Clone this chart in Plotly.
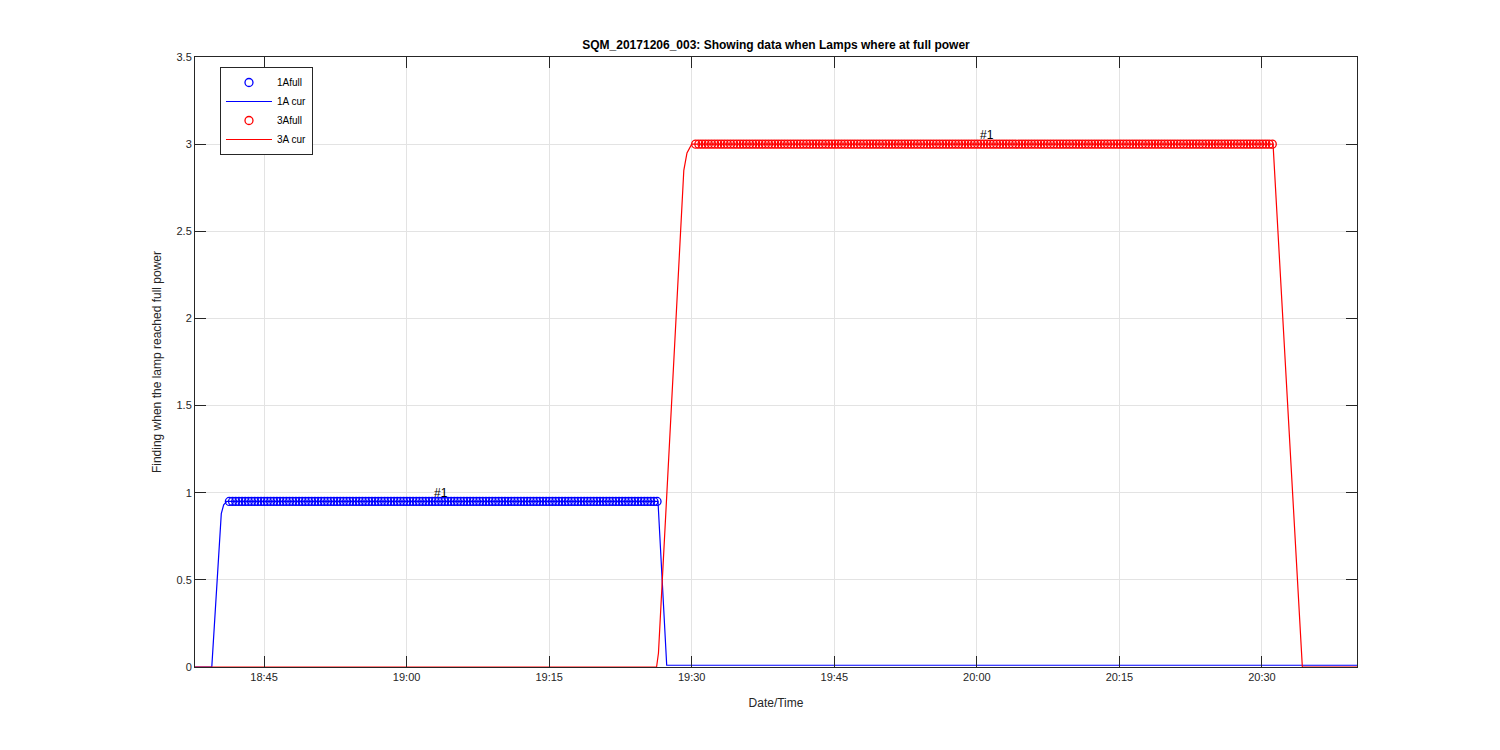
import pandas as pd
import plotly.graph_objects as go

DAY = "2017-12-06 "

# Lamp 1A current trace (key samples)
cur1_times = ["18:37:44", "18:39:30", "18:40:30", "18:40:45", "18:41:05",
              "19:26:27", "19:27:22", "20:40:00"]
cur1_vals = [0.0, 0.0, 0.88, 0.93, 0.95, 0.95, 0.01, 0.01]

# Lamp 3A current trace (key samples)
cur3_times = ["18:37:44", "19:26:18", "19:26:30", "19:29:10", "19:29:30",
              "19:30:00", "20:31:10", "20:34:15", "20:40:00"]
cur3_vals = [0.0, 0.0, 0.08, 2.85, 2.95, 3.0, 3.0, 0.0, 0.0]

# Full-power samples
full1_start, full1_end, full1_val = "18:41:21", "19:26:25", 0.95
full3_start, full3_end, full3_val = "19:30:25", "20:31:07", 3.0
sample_step = "20s"

# annotations
ann_times = ["19:02:38", "20:00:06"]
ann_vals = [1.0, 3.05]
ann_text = ["#1", "#1"]

x_range = ["18:37:44", "20:40:00"]
y_ticks = [0, 0.5, 1, 1.5, 2, 2.5, 3, 3.5]

def ts(lst):
    return [pd.Timestamp(DAY + t) for t in lst]

full1_t = pd.date_range(DAY + full1_start, DAY + full1_end, freq=sample_step)
full3_t = pd.date_range(DAY + full3_start, DAY + full3_end, freq=sample_step)

BLUE = "#0000ff"
RED = "#ff0000"

fig = go.Figure()
fig.add_trace(go.Scatter(x=full1_t, y=[full1_val] * len(full1_t), mode="markers",
                         name="1Afull",
                         marker=dict(symbol="circle-open", size=8, color=BLUE,
                                     line=dict(width=1.3, color=BLUE))))
fig.add_trace(go.Scatter(x=ts(cur1_times), y=cur1_vals, mode="lines", name="1A cur",
                         line=dict(color=BLUE, width=1.2)))
fig.add_trace(go.Scatter(x=full3_t, y=[full3_val] * len(full3_t), mode="markers",
                         name="3Afull",
                         marker=dict(symbol="circle-open", size=8, color=RED,
                                     line=dict(width=1.3, color=RED))))
fig.add_trace(go.Scatter(x=ts(cur3_times), y=cur3_vals, mode="lines", name="3A cur",
                         line=dict(color=RED, width=1.2)))

for t, v, s in zip(ts(ann_times), ann_vals, ann_text):
    fig.add_annotation(x=t, y=v, text=s, showarrow=False, xanchor="left",
                       yanchor="middle", font=dict(size=12, color="#000000"))

axis_common = dict(showline=True, linecolor="#262626", linewidth=1, mirror="ticks",
                   ticks="inside", ticklen=11, tickcolor="#262626",
                   showgrid=True, gridcolor="#e3e3e3", gridwidth=1, zeroline=False,
                   tickfont=dict(family="Liberation Sans, Arial", size=11, color="#262626"))

fig.update_xaxes(range=ts(x_range), tickformat="%H:%M", dtick=900000,
                 tick0=pd.Timestamp(DAY + "18:45:00"),
                 title=dict(text="Date/Time", font=dict(size=12, color="#262626"), standoff=16),
                 **axis_common)
fig.update_yaxes(range=[0, 3.5], tickvals=y_ticks,
                 title=dict(text="Finding when the lamp reached full power",
                            font=dict(size=12, color="#262626"), standoff=12),
                 **axis_common)

fig.update_layout(
    width=1500, height=750,
    margin=dict(l=187, r=151, t=49, b=91),
    paper_bgcolor="white", plot_bgcolor="white",
    font=dict(family="Liberation Sans, Arial", size=11, color="#262626"),
    title=dict(text="<b>SQM_20171206_003: Showing data when Lamps where at full power</b>",
               x=(187 + 1349) / 2 / 1500, xanchor="center", y=1 - 37 / 750, yanchor="middle",
               font=dict(size=12, color="#000000")),
    legend=dict(x=0.0215, y=0.9836, xanchor="left", yanchor="top",
                bgcolor="white", bordercolor="#262626", borderwidth=1,
                font=dict(size=10, color="#000000"), tracegroupgap=0,
                itemwidth=46),
    showlegend=True,
)

fig.write_html("out.html")
